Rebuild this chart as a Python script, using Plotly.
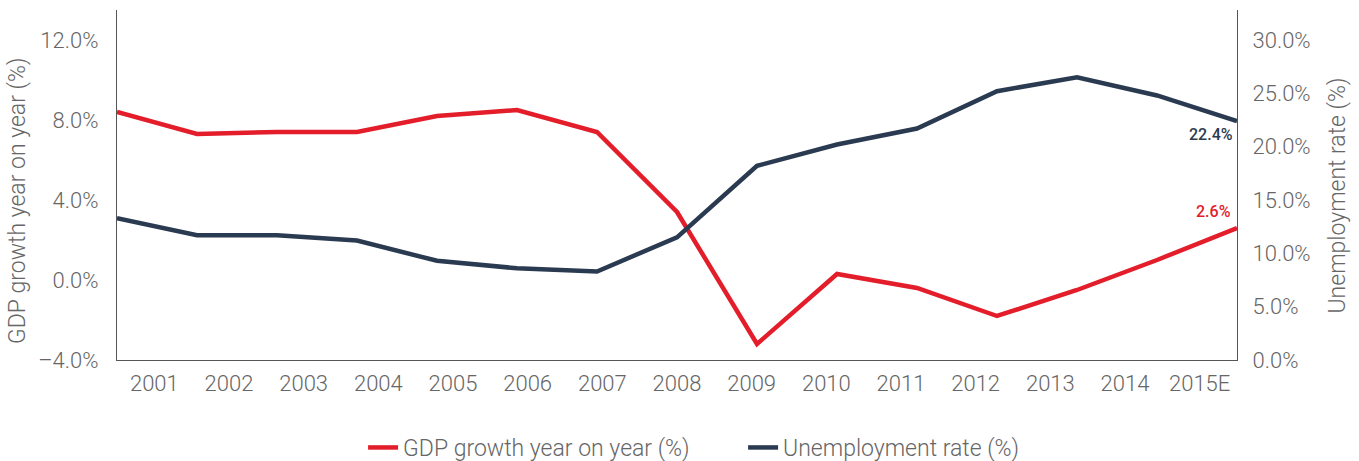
import plotly.graph_objects as go

# Years shown on the category axis
years = ["2001", "2002", "2003", "2004", "2005", "2006", "2007", "2008",
         "2009", "2010", "2011", "2012", "2013", "2014", "2015E"]

# GDP growth year on year (%)
gdp_growth = [8.4, 7.3, 7.4, 7.4, 8.2, 8.5, 7.4, 3.4,
              -3.2, 0.3, -0.4, -1.8, -0.5, 1.0, 2.6]

# Unemployment rate (%)
unemployment = [13.3, 11.7, 11.7, 11.2, 9.3, 8.6, 8.3, 11.5,
                18.2, 20.2, 21.7, 25.2, 26.5, 24.8, 22.4]

left_ticks = [-4, 0, 4, 8, 12]
left_tick_text = ["–4.0%", "0.0%", "4.0%", "8.0%", "12.0%"]
right_ticks = [0, 5, 10, 15, 20, 25, 30]
right_tick_text = ["0.0%", "5.0%", "10.0%", "15.0%", "20.0%", "25.0%", "30.0%"]

RED = "#E31D2A"
NAVY = "#2A3A50"
GREY = "#666666"
AXIS = "#555555"
FONT = "Roboto"
TICK_FONT = dict(size=22, color=GREY, family=FONT, weight=300)
TEXT_FONT = dict(size=23, color=GREY, family=FONT, weight=300)

n = len(years)
x_pts = list(range(n))
# labels sit in the middle of n equal bands spanning the point range
label_pos = [(k + 0.5) * (n - 1) / n for k in range(n)]

fig = go.Figure()
fig.add_trace(go.Scatter(
    x=x_pts, y=gdp_growth, mode="lines", name="GDP growth year on year (%)",
    line=dict(color=RED, width=4.5), yaxis="y"))
fig.add_trace(go.Scatter(
    x=x_pts, y=unemployment, mode="lines", name="Unemployment rate (%)",
    line=dict(color=NAVY, width=4.5), yaxis="y2"))

fig.update_layout(
    width=1359, height=461,
    margin=dict(l=117, r=122, t=10, b=101, autoexpand=False),
    paper_bgcolor="white", plot_bgcolor="white",
    font=TEXT_FONT,
    showlegend=True,
    legend=dict(orientation="h", x=0.559, xanchor="center", y=-0.25, yanchor="middle",
                font=TEXT_FONT, tracegroupgap=0,
                entrywidth=335, entrywidthmode="pixels"),
    xaxis=dict(range=[0, n - 1], tickvals=label_pos, ticktext=years, automargin=False,
               showgrid=False, zeroline=False, showline=True, linecolor=AXIS,
               linewidth=1.2, ticks="outside", ticklen=3, tickcolor="rgba(0,0,0,0)",
               tickfont=TICK_FONT),
    yaxis=dict(range=[-4, 13.5], tickvals=left_ticks, ticktext=left_tick_text,
               automargin=False,
               showgrid=False, zeroline=False, showline=True, linecolor=AXIS,
               linewidth=1.2, ticks="outside", ticklen=13, tickcolor="rgba(0,0,0,0)",
               tickfont=TICK_FONT),
    yaxis2=dict(range=[0, 32.8125], tickvals=right_ticks, ticktext=right_tick_text,
                overlaying="y", side="right", automargin=False,
                showgrid=False, zeroline=False, showline=True, linecolor=AXIS,
                linewidth=1.2, ticks="outside", ticklen=10, tickcolor="rgba(0,0,0,0)",
                tickfont=TICK_FONT),
)

# Axis titles
fig.add_annotation(text="GDP growth year on year (%)", textangle=-90,
                   xref="paper", yref="paper", x=-0.089, y=0.455,
                   xanchor="center", yanchor="middle", showarrow=False,
                   font=TEXT_FONT)
fig.add_annotation(text="Unemployment rate (%)", textangle=-90,
                   xref="paper", yref="paper", x=1.0893, y=0.47,
                   xanchor="center", yanchor="middle", showarrow=False,
                   font=TEXT_FONT)

# End-point value labels
fig.add_annotation(text=f"{unemployment[-1]:.1f}%", x=x_pts[-1], y=unemployment[-1],
                   xref="x", yref="y2", xanchor="right", yanchor="top",
                   xshift=-2, yshift=-2, showarrow=False,
                   font=dict(size=16, color=NAVY, family=FONT, weight=500))
fig.add_annotation(text=f"{gdp_growth[-1]:.1f}%", x=x_pts[-1], y=gdp_growth[-1],
                   xref="x", yref="y", xanchor="right", yanchor="bottom",
                   xshift=-4, yshift=5, showarrow=False,
                   font=dict(size=16, color=RED, family=FONT, weight=500))

fig.write_html("out.html")
